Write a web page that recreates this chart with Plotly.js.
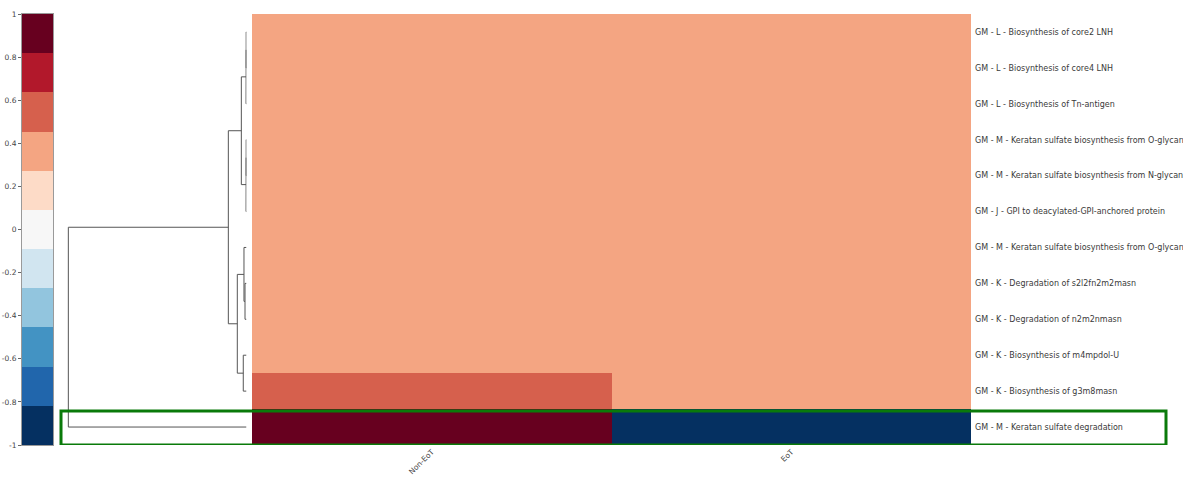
<!DOCTYPE html>
<html>
<head>
<meta charset="utf-8">
<script src="https://cdn.plot.ly/plotly-3.0.1.min.js"></script>
<style>
  html, body { margin: 0; padding: 0; background: #ffffff; }
  #chart { width: 1183px; height: 478px; }
</style>
</head>
<body>
<div id="chart"></div>
<script>
// Pathway rows, top to bottom
const rowLabels = [
  'GM - L - Biosynthesis of core2 LNH',
  'GM - L - Biosynthesis of core4 LNH',
  'GM - L - Biosynthesis of Tn-antigen',
  'GM - M - Keratan sulfate biosynthesis from O-glycan',
  'GM - M - Keratan sulfate biosynthesis from N-glycan',
  'GM - J - GPI to deacylated-GPI-anchored protein',
  'GM - M - Keratan sulfate biosynthesis from O-glycan',
  'GM - K - Degradation of s2l2fn2m2masn',
  'GM - K - Degradation of n2m2nmasn',
  'GM - K - Biosynthesis of m4mpdol-U',
  'GM - K - Biosynthesis of g3m8masn',
  'GM - M - Keratan sulfate degradation'
];

// Group columns
const colLabels = ['Non-EoT', 'EoT'];

// Correlation values per group
const nonEoTValues = [0.41, 0.41, 0.40, 0.38, 0.38, 0.37, 0.35, 0.33, 0.33, 0.43, 0.58, 1.00];
const eoTValues    = [0.42, 0.42, 0.42, 0.39, 0.39, 0.38, 0.36, 0.36, 0.36, 0.40, 0.40, -1.00];

// Row highlighted by the box (index into rowLabels)
const highlightedRow = 11;

// Diverging palette, 11 classes, from -1 (blue) to +1 (red)
const rdbu11 = ['#053061', '#2166ac', '#4393c3', '#92c5de', '#d1e5f0', '#f7f7f7',
                '#fddbc7', '#f4a582', '#d6604d', '#b2182b', '#67001f'];

// Colour bar ticks
const cbTickVals = [1, 0.8, 0.6, 0.4, 0.2, 0, -0.2, -0.4, -0.6, -0.8, -1];
const cbTickText = ['1', '0.8', '0.6', '0.4', '0.2', '0', '-0.2', '-0.4', '-0.6', '-0.8', '-1'];

// Row clustering: [childA, childB, height]; leaves are 0..11, new clusters 12, 13, ...
const linkage = [
  [0, 1, 0.003],
  [12, 2, 0.004],
  [3, 4, 0.003],
  [14, 5, 0.004],
  [13, 15, 0.045],
  [7, 8, 0.013],
  [6, 17, 0.022],
  [9, 10, 0.028],
  [18, 19, 0.080],
  [16, 20, 0.158],
  [21, 11, 1.55]
];

// ---- build the discrete colour scale
const nBins = rdbu11.length;
const colorscale = [];
rdbu11.forEach((c, i) => {
  colorscale.push([i / nBins, c]);
  colorscale.push([(i + 1) / nBins, c]);
});

// ---- heatmap matrix (rows x columns)
const rowIdx = rowLabels.map((_, i) => i);
const z = rowLabels.map((_, i) => [nonEoTValues[i], eoTValues[i]]);

// ---- dendrogram segments from the linkage
const nodeY = rowIdx.slice();
const nodeH = rowIdx.map(() => 0);
const dx = [], dy = [];
linkage.forEach(([a, b, h]) => {
  dx.push(nodeH[a], h, h, nodeH[b], null);
  dy.push(nodeY[a], nodeY[a], nodeY[b], nodeY[b], null);
  nodeY.push((nodeY[a] + nodeY[b]) / 2);
  nodeH.push(h);
});

// ---- colour bar as its own heatmap strip
const cbCenters = rdbu11.map((_, i) => -1 + (2 / nBins) * (i + 0.5));

const W = 1183;
const px = v => v / W;

const heat = {
  type: 'heatmap',
  x: colLabels,
  y: rowIdx,
  z: z,
  zmin: -1, zmax: 1,
  colorscale: colorscale,
  showscale: false,
  xaxis: 'x', yaxis: 'y',
  hoverinfo: 'skip'
};

const dendro = {
  type: 'scatter',
  mode: 'lines',
  x: dx, y: dy,
  line: { color: '#555555', width: 1 },
  xaxis: 'x2', yaxis: 'y',
  hoverinfo: 'skip',
  showlegend: false
};

const cbar = {
  type: 'heatmap',
  x: [0],
  y: cbCenters,
  z: cbCenters.map(v => [v]),
  zmin: -1, zmax: 1,
  colorscale: colorscale,
  showscale: false,
  xaxis: 'x3', yaxis: 'y3',
  hoverinfo: 'skip'
};

const smallFont = { family: 'DejaVu Sans, sans-serif', size: 7.5, color: '#444444' };
const rowFont = { family: 'DejaVu Sans, sans-serif', size: 8, color: '#3a3a3a' };

const layout = {
  width: W, height: 478,
  margin: { l: 0, r: 0, t: 14, b: 33 },
  paper_bgcolor: '#ffffff',
  plot_bgcolor: 'rgba(0,0,0,0)',
  showlegend: false,
  xaxis: {
    domain: [px(252), px(971)],
    anchor: 'y',
    type: 'category',
    tickangle: -45,
    tickfont: smallFont,
    ticks: '',
    showline: false, showgrid: false, zeroline: false,
    fixedrange: true
  },
  yaxis: {
    domain: [0, 1],
    anchor: 'x',
    side: 'right',
    range: [rowLabels.length - 0.5, -0.5],
    tickvals: rowIdx,
    ticktext: rowLabels,
    tickfont: rowFont,
    ticks: '',
    ticklabelstandoff: 3,
    showline: false, showgrid: false, zeroline: false,
    fixedrange: true
  },
  xaxis2: {
    domain: [px(55), px(246.5)],
    anchor: 'y',
    range: [1.666, 0],
    showticklabels: false, ticks: '',
    showline: false, showgrid: false, zeroline: false,
    fixedrange: true
  },
  xaxis3: {
    domain: [px(22), px(53)],
    anchor: 'y3',
    range: [-0.5, 0.5],
    showticklabels: false, ticks: '',
    showline: true, mirror: true, linecolor: '#9a9a9a', linewidth: 1,
    showgrid: false, zeroline: false,
    fixedrange: true
  },
  yaxis3: {
    domain: [0, 1.002],
    anchor: 'x3',
    side: 'left',
    range: [-1, 1],
    tickvals: cbTickVals,
    ticktext: cbTickText,
    tickfont: smallFont,
    ticks: 'outside', ticklen: 3, tickcolor: '#666666',
    showline: true, mirror: true, linecolor: '#9a9a9a', linewidth: 1,
    showgrid: false, zeroline: false,
    fixedrange: true
  },
  shapes: [{
    type: 'rect',
    xref: 'paper', yref: 'y',
    x0: px(61), x1: px(1166),
    y0: highlightedRow - 0.45, y1: highlightedRow + 0.5,
    line: { color: '#0a7a0a', width: 3 },
    fillcolor: 'rgba(0,0,0,0)',
    layer: 'above'
  }]
};

Plotly.newPlot('chart', [heat, dendro, cbar], layout, { displayModeBar: false, staticPlot: true });
</script>
</body>
</html>
